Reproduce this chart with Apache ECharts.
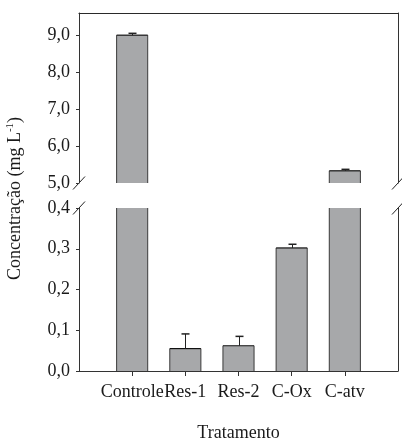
<!DOCTYPE html>
<html>
<head>
<meta charset="utf-8">
<script src="https://cdn.jsdelivr.net/npm/echarts@6/dist/echarts.min.js"></script>
<style>
html,body{margin:0;padding:0;background:#fff;}
#c{width:402px;height:443px;}
</style>
</head>
<body>
<div id="c"></div>
<script>
// ---- data ----
const categories = ['Controle', 'Res-1', 'Res-2', 'C-Ox', 'C-atv'];
const values = [9.0, 0.055, 0.062, 0.302, 5.33];
const errors = [0.05, 0.036, 0.023, 0.009, 0.04];
const upperTicks = [5, 6, 7, 8, 9];
const lowerTicks = [0, 0.1, 0.2, 0.3, 0.4];
const upperRange = [5, 9.6];
const lowerRange = [0, 0.4];
const xTitle = 'Tratamento';
const yTitle = 'Concentração (mg L';

// ---- build ----
const axisCats = [''].concat(categories, ['']);
const seriesData = categories.map((c, i) => [i + 1, values[i], errors[i]]);
const FONT = 'Liberation Serif';
const INK = '#1a1a1a';
const LINE = '#333';
const FS = 18;

function fmt(v) {
  return Number(v).toFixed(1).replace('.', ',');
}

function renderBar(params, api) {
  const xi = api.value(0), v = api.value(1), e = api.value(2);
  const base = api.coord([xi, 0]);
  const top = api.coord([xi, v]);
  const errTop = api.coord([xi, v + e]);
  const w = api.size([1, 0])[0] * 0.585;
  const xl = top[0] - w / 2, xr = top[0] + w / 2;
  const cx = Math.round(top[0]) + 0.5;
  const st = {stroke: '#3a3a3a', lineWidth: 1};
  return {
    type: 'group',
    children: [
      {type: 'rect', shape: {x: xl, y: top[1], width: w, height: base[1] - top[1]}, style: {fill: '#a7a8aa'}},
      {type: 'line', shape: {x1: xl, y1: top[1], x2: xl, y2: base[1]}, style: st},
      {type: 'line', shape: {x1: xr, y1: top[1], x2: xr, y2: base[1]}, style: st},
      {type: 'line', shape: {x1: xl, y1: top[1], x2: xr, y2: top[1]}, style: {stroke: '#111', lineWidth: 1.2}},
      {type: 'line', shape: {x1: cx, y1: top[1], x2: cx, y2: errTop[1]}, style: {stroke: '#222', lineWidth: 1}},
      {type: 'line', shape: {x1: cx - 4, y1: errTop[1], x2: cx + 4, y2: errTop[1]}, style: {stroke: '#222', lineWidth: 1.5}}
    ]
  };
}

const chart = echarts.init(document.getElementById('c'), null, {renderer: 'canvas'});

const gridL = 79, gridR = 4;
const option = {
  animation: false,
  backgroundColor: '#fff',
  grid: [
    {left: gridL, right: gridR, top: 13, height: 170},
    {left: gridL, right: gridR, top: 208, height: 172}
  ],
  xAxis: [
    {
      type: 'category', gridIndex: 0, data: axisCats, boundaryGap: false, position: 'top',
      axisLine: {show: true, onZero: false, lineStyle: {color: '#2a2a2a', width: 1.2}},
      axisTick: {show: false}, axisLabel: {show: false}, splitLine: {show: false}
    },
    {
      type: 'category', gridIndex: 1, data: axisCats, boundaryGap: false, position: 'bottom',
      axisLine: {show: true, onZero: false, lineStyle: {color: LINE, width: 1}},
      axisTick: {show: true, length: 5, lineStyle: {color: LINE}, interval: (i) => i > 0 && i < axisCats.length - 1},
      axisLabel: {show: true, interval: 0, margin: 12, color: INK, fontFamily: FONT, fontSize: FS},
      splitLine: {show: false},
      name: xTitle, nameLocation: 'middle', nameGap: 53,
      nameTextStyle: {color: INK, fontFamily: FONT, fontSize: FS}
    }
  ],
  yAxis: [
    {
      type: 'value', gridIndex: 0, min: upperRange[0], max: upperRange[1],
      axisLine: {show: true, lineStyle: {color: LINE}},
      axisTick: {show: true, length: 3, lineStyle: {color: LINE}, customValues: upperTicks},
      axisLabel: {customValues: upperTicks, formatter: fmt, margin: 9, color: INK, fontFamily: FONT, fontSize: FS},
      splitLine: {show: false}
    },
    {
      type: 'value', gridIndex: 1, min: lowerRange[0], max: lowerRange[1],
      axisLine: {show: true, lineStyle: {color: LINE}},
      axisTick: {show: true, length: 3, lineStyle: {color: LINE}, customValues: lowerTicks},
      axisLabel: {customValues: lowerTicks, formatter: fmt, margin: 9, color: INK, fontFamily: FONT, fontSize: FS},
      splitLine: {show: false}
    },
    {
      type: 'value', gridIndex: 0, position: 'right', min: upperRange[0], max: upperRange[1],
      axisLine: {show: true, lineStyle: {color: LINE}}, axisTick: {show: false}, axisLabel: {show: false}, splitLine: {show: false}
    },
    {
      type: 'value', gridIndex: 1, position: 'right', min: lowerRange[0], max: lowerRange[1],
      axisLine: {show: true, lineStyle: {color: LINE}}, axisTick: {show: false}, axisLabel: {show: false}, splitLine: {show: false}
    }
  ],
  series: [
    {type: 'custom', xAxisIndex: 0, yAxisIndex: 0, clip: true, data: seriesData, renderItem: renderBar, encode: {x: 0, y: 1}},
    {type: 'custom', xAxisIndex: 1, yAxisIndex: 1, clip: true, data: seriesData, renderItem: renderBar, encode: {x: 0, y: 1}}
  ]
};
chart.setOption(option);

// break marks and y title
const xLeft = chart.convertToPixel({xAxisIndex: 1}, 0);
const xRight = chart.convertToPixel({xAxisIndex: 1}, axisCats.length - 1);
const yUpBottom = chart.convertToPixel({yAxisIndex: 0}, upperRange[0]);
const yLowTop = chart.convertToPixel({yAxisIndex: 1}, lowerRange[1]);
const marks = [];
[xLeft, xRight].forEach((x) => {
  [yUpBottom, yLowTop].forEach((y) => {
    marks.push({type: 'line', shape: {x1: x - 6, y1: y + 6.5, x2: x + 6, y2: y - 6.5}, style: {stroke: '#222', lineWidth: 1}});
  });
});
marks.push({
  type: 'text', x: 15, y: (yUpBottom + yLowTop) / 2 + 3, rotation: Math.PI / 2,
  style: {
    text: yTitle + '{sup|-1}' + ')', fill: INK, font: FS + 'px "' + FONT + '"',
    align: 'center', verticalAlign: 'middle',
    rich: {sup: {fontSize: 11, fontFamily: FONT, fill: INK, verticalAlign: 'top', padding: [0, 0, 9, 0]}}
  }
});
chart.setOption({graphic: marks});
</script>
</body>
</html>
